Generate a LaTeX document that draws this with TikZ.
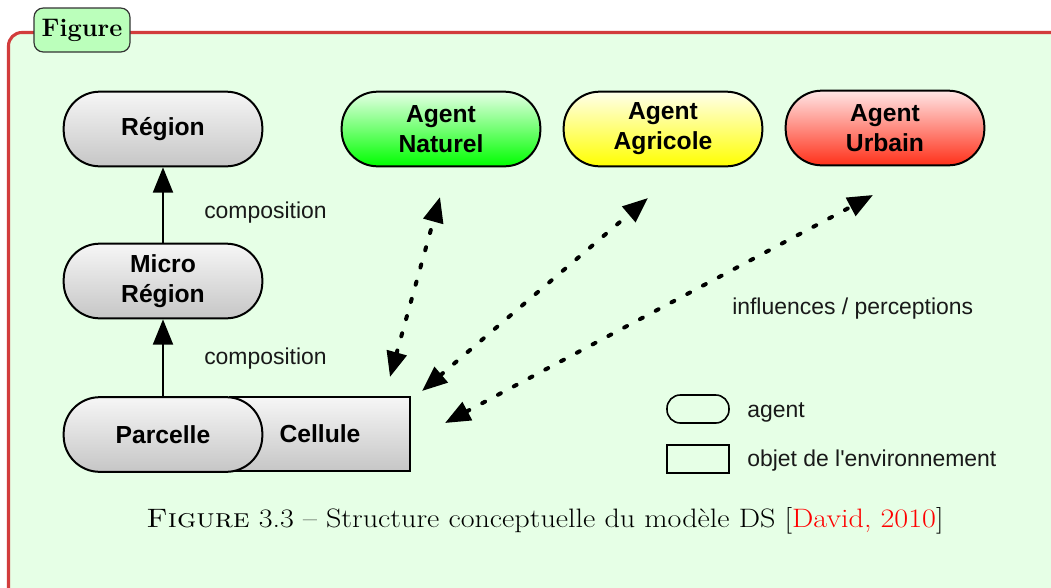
\documentclass[tikz,border=0pt]{standalone}
\usepackage{fontspec}
\newfontfamily\lsans{Liberation Sans}
\usetikzlibrary{arrows.meta,calc}
\definecolor{bgg}{HTML}{E6FFE6}
\definecolor{frred}{HTML}{D23C3C}
\definecolor{titleg}{HTML}{BBFFBB}
\definecolor{gtop}{HTML}{F6F6F6}
\definecolor{gbot}{HTML}{C6C6C6}
\tikzset{
  pill/.style={draw=black, line width=1.5pt, rounded corners=27pt, minimum width=149pt,
    minimum height=56pt, inner sep=0pt, align=center,
    font=\lsans\bfseries\fontsize{18.5}{22.5}\selectfont, top color=gtop, bottom color=gbot},
  envbox/.style={draw=black, line width=1.5pt, minimum width=135pt, minimum height=55.5pt,
    inner sep=0pt, font=\lsans\bfseries\fontsize{18.5}{22.5}\selectfont, top color=gtop, bottom color=gbot},
  lbl/.style={anchor=base west, inner sep=0pt, font=\lsans\fontsize{17.2}{20}\selectfont, text=black!90},
  comp/.style={line width=1.6pt, -{Triangle[length=19pt,width=15pt]}},
  infl/.style={line width=3pt, dash pattern=on 2.4pt off 11pt, line cap=round,
    {Triangle[length=19pt,width=15pt]}-{Triangle[length=19pt,width=15pt]}},
}
\begin{document}
\begin{tikzpicture}[x=0.75pt,y=-0.75pt]
\useasboundingbox (0,0) rectangle (1051,587);
\clip (0,0) rectangle (1051,587);
\fill[white] (0,0) rectangle (1051,587);
% frame
\draw[frred, line width=2.3pt, fill=bgg, rounded corners=10pt] (8.5,32.5) rectangle (1200,800);
\node[draw=black!80, fill=titleg, rounded corners=7pt, line width=0.9pt, minimum width=72pt,
  minimum height=33pt, inner sep=0pt, font=\bfseries\fontsize{19}{21}\selectfont] (title) at (82,30) {Figure};

% nodes
\node[pill] (reg) at (163,129) {Région};
\node[pill] (mic) at (163,281) {Micro\\Région};
\node[envbox] (cel) at (320,434) {Cellule};
\node[pill] (par) at (163,434.5) {Parcelle};

\node[pill, top color=green!10, bottom color=green!90!black!0!green] (nat) at (441,129) {Agent\\Naturel};
\node[pill, top color=yellow!8, bottom color=yellow] (agr) at (663,129) {Agent\\Agricole};
\node[pill, top color=red!10, bottom color=red!80!orange!90] (urb) at (885,128) {Agent\\Urbain};

% composition arrows
\draw[comp] (mic.north) -- (reg.south);
\draw[comp] (par.north) -- (mic.south);
\node[lbl] (c1) at (204,218) {composition};
\node[lbl] (c2) at (204,364) {composition};

% influences
\coordinate (e1) at (390,377);
\coordinate (t1) at (440,197);
\coordinate (e2) at (422,391);
\coordinate (t2) at (648,198);
\coordinate (e3) at (445,423);
\coordinate (t3) at (873,195);
\draw[infl] (e1) -- (t1);
\draw[infl] (e2) -- (t2);
\draw[infl] (e3) -- (t3);
\node[lbl] (inf) at (732,314) {influences / perceptions};

% legend
\node[draw=black, line width=1.2pt, rounded corners=10pt, minimum width=46.5pt, minimum height=21pt, inner sep=0pt] (lga) at (698,409) {};
\node[lbl] (lgat) at (747,417) {agent};
\node[draw=black, line width=1.2pt, minimum width=46.5pt, minimum height=21pt, inner sep=0pt] (lgo) at (698,459) {};
\node[lbl] (lgot) at (747,466) {objet de l'environnement};

% caption
\node[anchor=base, inner sep=0pt, font=\fontsize{20}{24}\selectfont] (cap) at (545,527)
  {\scalebox{1.13}[1]{\textsc{Figure} 3.3 – Structure conceptuelle du modèle DS [{\color{red}David, 2010}]}};
\end{tikzpicture}
\end{document}
